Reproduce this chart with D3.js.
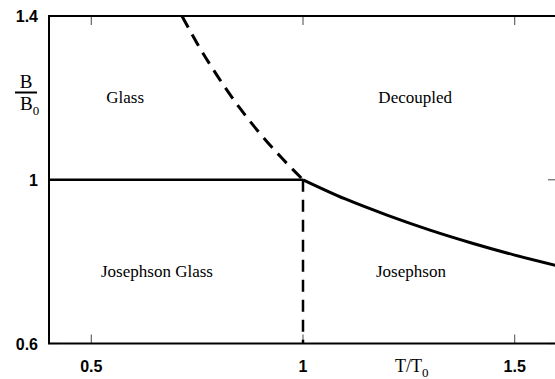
<!DOCTYPE html>
<html>
<head>
<meta charset="utf-8">
<script src="https://cdn.jsdelivr.net/npm/d3@7"></script>
<style>
  body { margin: 0; background: #fff; }
  svg { display: block; }
</style>
</head>
<body>
<div id="chart"></div>
<script>
// phase boundaries
var glassLine = [[0.4, 1], [1, 1]];
var decoupledLine = [[1, 1], [1.1, 0.953], [1.2, 0.913], [1.3, 0.877], [1.4, 0.845], [1.5, 0.816], [1.6, 0.79]];
var glassDecoupled = [[0.714, 1.4], [0.75, 1.333], [0.8, 1.25], [0.85, 1.176], [0.9, 1.111], [0.95, 1.053], [1, 1]];
var josephsonLine = [[1, 1], [1, 0.6]];

var xTicks = [0.5, 1, 1.5];
var yTicks = [0.6, 1, 1.4];

var regions = [
  {name: "Glass", t: 0.58, b: 1.2},
  {name: "Decoupled", t: 1.265, b: 1.2},
  {name: "Josephson Glass", t: 0.655, b: 0.775},
  {name: "Josephson", t: 1.255, b: 0.775}
];

var width = 555, height = 379,
    margin = ({top: 16, right: -2, bottom: 35.5, left: 49});

var x = d3.scaleLinear()
  .domain([0.4, 1.6])
  .range([margin.left, width - margin.right]);

var y = d3.scaleLinear()
  .domain([0.6, 1.4])
  .range([height - margin.bottom, margin.top]);

var svg = d3.select("#chart").append("svg")
  .attr("width", width)
  .attr("height", height);

var line = d3.line().x(d => x(d[0])).y(d => y(d[1]));
var curve = d3.line().curve(d3.curveMonotoneX).x(d => x(d[0])).y(d => y(d[1]));

// ticks inward on all four sides
var tickLen = 9;
var ticks = svg.append("g").attr("stroke", "#666").attr("stroke-width", 1.2);
xTicks.forEach(function(t){
  ticks.append("line").attr("x1", x(t)).attr("x2", x(t))
    .attr("y1", y.range()[0]).attr("y2", y.range()[0] - tickLen);
  ticks.append("line").attr("x1", x(t)).attr("x2", x(t))
    .attr("y1", y.range()[1]).attr("y2", y.range()[1] + tickLen);
});
yTicks.forEach(function(t){
  ticks.append("line").attr("y1", y(t)).attr("y2", y(t))
    .attr("x1", x.range()[0]).attr("x2", x.range()[0] + tickLen);
  ticks.append("line").attr("y1", y(t)).attr("y2", y(t))
    .attr("x1", x.range()[1]).attr("x2", x.range()[1] - tickLen);
});

// frame
svg.append("rect")
  .attr("x", x.range()[0]).attr("y", y.range()[1])
  .attr("width", x.range()[1] - x.range()[0])
  .attr("height", y.range()[0] - y.range()[1])
  .attr("fill", "none").attr("stroke", "#000").attr("stroke-width", 2);

// tick labels
var sans = "Liberation Sans, Arial, sans-serif";
svg.append("g").selectAll("text").data(xTicks).join("text")
  .attr("x", d => x(d)).attr("y", 372)
  .attr("text-anchor", "middle")
  .attr("font-family", sans).attr("font-weight", "bold")
  .attr("font-size", "16px")
  .text(d => d);

svg.append("g").selectAll("text").data(yTicks).join("text")
  .attr("x", 38).attr("y", d => y(d) + 6)
  .attr("text-anchor", "end")
  .attr("font-family", sans).attr("font-weight", "bold")
  .attr("font-size", "16px")
  .text(d => d);

// boundaries
svg.append("path").datum(glassLine).attr("d", line)
  .attr("fill", "none").attr("stroke", "#000").attr("stroke-width", 2.5);
svg.append("path").datum(decoupledLine).attr("d", curve)
  .attr("fill", "none").attr("stroke", "#000").attr("stroke-width", 3);
svg.append("path").datum(glassDecoupled).attr("d", curve)
  .attr("fill", "none").attr("stroke", "#000").attr("stroke-width", 3)
  .attr("stroke-dasharray", "13 8");
svg.append("path").datum(josephsonLine).attr("d", line)
  .attr("fill", "none").attr("stroke", "#000").attr("stroke-width", 2.5)
  .attr("stroke-dasharray", "12 8");

// region names
var serif = "Liberation Serif, Times New Roman, serif";
svg.append("g").selectAll("text").data(regions).join("text")
  .attr("x", d => x(d.t)).attr("y", d => y(d.b) + 5)
  .attr("text-anchor", "middle")
  .attr("font-family", serif)
  .attr("font-size", "17px")
  .text(d => d.name);

// axis titles
var yt = svg.append("g").attr("font-family", serif).attr("font-size", "19px");
yt.append("text").attr("x", 26).attr("y", 88).attr("text-anchor", "middle").text("B");
yt.append("line").attr("x1", 15).attr("x2", 37).attr("y1", 92.5).attr("y2", 92.5)
  .attr("stroke", "#000").attr("stroke-width", 2);
var b0 = yt.append("text").attr("x", 20).attr("y", 110);
b0.append("tspan").text("B");
b0.append("tspan").attr("dy", 5).attr("font-size", "13px").text("0");

var xt = svg.append("text").attr("x", 395).attr("y", 372)
  .attr("font-family", serif).attr("font-size", "18px");
xt.append("tspan").text("T/T");
xt.append("tspan").attr("dy", 5).attr("font-size", "13px").text("0");
</script>
</body>
</html>
